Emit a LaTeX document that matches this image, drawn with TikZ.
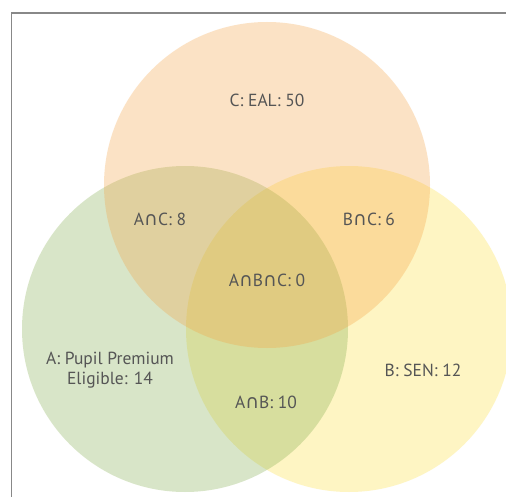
\documentclass[tikz,border=0pt]{standalone}
\usepackage{fontspec}
\setmainfont{PT Sans}
\newfontfamily\symf[Scale=1.08]{DejaVu Sans}
\newcommand\isect{{\symf ∩}}
\definecolor{cA}{RGB}{128,172,75}
\definecolor{cB}{RGB}{252,222,58}
\definecolor{cC}{RGB}{245,162,65}
\definecolor{txt}{RGB}{85,85,85}
\definecolor{frame}{RGB}{136,136,136}
\tikzset{
  setcircle/.style={fill opacity=0.3, draw=none},
  lbl/.style={text=txt, font=\fontsize{17.5}{19.5}\selectfont, align=center, inner sep=0pt}
}
\begin{document}
\begin{tikzpicture}[x=1pt,y=-1pt]
\useasboundingbox (0,0) rectangle (506,497);
\fill[white] (0,0) rectangle (506,497);
\draw[frame, line width=1.2pt] (11.5,497) -- (11.5,13) -- (506,13);
\fill[cB, setcircle] (349,329) circle[radius=163];
\fill[cA, setcircle] (185,329) circle[radius=163];
\fill[cC, setcircle] (267,185) circle[radius=163];
\node[lbl] (c) at (267,100) {C: EAL: 50};
\node[lbl] (ac) at (160,219) {A\isect C: 8};
\node[lbl] (bc) at (369,219) {B\isect C: 6};
\node[lbl] (abc) at (267,280) {A\isect B\isect C: 0};
\node[lbl] (a) at (110,370) {A: Pupil Premium\\Eligible: 14};
\node[lbl] (ab) at (266,402) {A\isect B: 10};
\node[lbl] (b) at (423,370) {B: SEN: 12};
\end{tikzpicture}
\end{document}
